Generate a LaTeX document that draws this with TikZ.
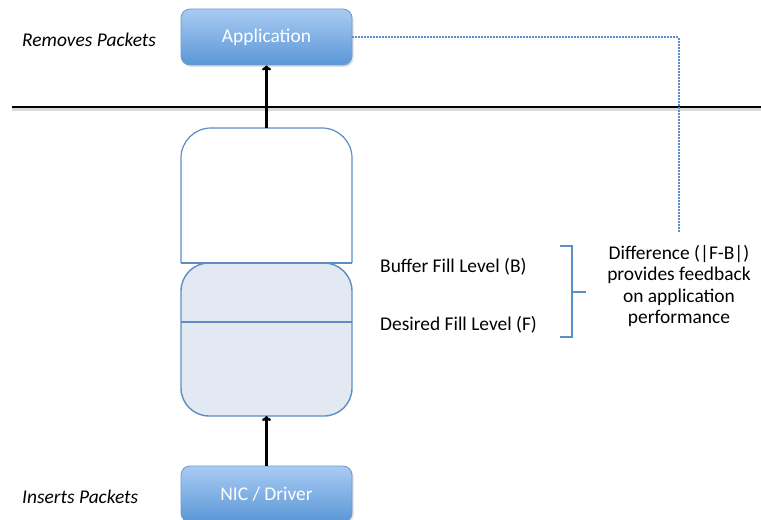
\documentclass[tikz,border=0pt]{standalone}
\usepackage{fontspec}
\setmainfont{Carlito}
\usetikzlibrary{arrows.meta,shadows}
\definecolor{boxtop}{HTML}{A9CBF3}
\definecolor{boxbot}{HTML}{5A97D6}
\definecolor{boxedge}{HTML}{6C9BD2}
\definecolor{bufedge}{HTML}{5E8DC4}
\definecolor{buffill}{HTML}{E2E9F3}
\definecolor{fbline}{HTML}{5B8FCB}
\tikzset{
  appbox/.style={rounded corners=9bp, draw=boxedge, line width=0.8bp,
    top color=boxtop, bottom color=boxbot, text=white,
    drop shadow={shadow xshift=1.5bp, shadow yshift=-2bp, opacity=0.25},
    minimum width=171bp, minimum height=56bp, inner sep=0pt, font=\fontsize{19.5}{22}\selectfont},
  flow/.style={line width=2.4bp, -{To[length=5bp,width=9bp]}},
  lbl/.style={font=\fontsize{19.5}{22}\selectfont, inner sep=0pt},
  side/.style={font=\fontsize{19.5}{22}\selectfont\itshape, inner sep=0pt},
  bufline/.style={draw=bufedge, line width=1.6bp},
}
\begin{document}
\begin{tikzpicture}[x=1bp,y=-1bp]
\useasboundingbox (0,0) rectangle (761,520);

% boundary between kernel and user space
\draw[line width=4bp, black!15] (12,109) -- (761,109);
\draw[line width=2.4bp] (12,107) -- (761,107);

% application and driver
\node[appbox] (app) at (266.5,37) {Application};
\node[appbox] (nic) at (266.5,494) {NIC / Driver};

% packet buffer: empty upper part and filled lower part
\coordinate (buftop) at (266.5,128);
\coordinate (bufbot) at (266.5,416);
\draw[bufline, fill=white, line width=1.2bp]
  (181,263) [rounded corners=30bp] -- (181,128) -- (352,128) [sharp corners] -- (352,263);
\draw[bufline, fill=buffill, line width=1.4bp, rounded corners=28bp]
  (181,263) rectangle (352,416);
\draw[bufline] (181,263) -- (352,263);
\draw[bufline] (181,322) -- (352,322);

% packet flow
\draw[flow] (nic.north) -- (bufbot);
\draw[flow] (buftop) -- (app.south);

% side labels
\node[side, anchor=west] (rem) at (22,40) {Removes Packets};
\node[side, anchor=west] (ins) at (22,497) {Inserts Packets};

% fill levels
\node[lbl, anchor=west] (fillB) at (380,267) {Buffer Fill Level (B)};
\node[lbl, anchor=west] (fillF) at (380,325) {Desired Fill Level (F)};

% bracket grouping the two levels
\coordinate (brt) at (560,246);
\coordinate (brb) at (560,337);
\coordinate (brm) at (572,292);
\coordinate (brtip) at (586,292);
\draw[fbline, line width=2bp] (brt) -- (572,246) -- (572,337) -- (brb);
\draw[fbline, line width=2bp] (brm) -- (brtip);

\node[lbl, align=center, font=\fontsize{19.5}{21.7}\selectfont] (diff) at (679,286)
  {Difference (|F-B|)\\provides feedback\\on application\\performance};

% feedback path to the application
\coordinate (fbcorner) at (679,37.5);
\draw[fbline, line width=2bp, dash pattern=on 1.6bp off 1.4bp] (app.east |- fbcorner) -- (fbcorner) -- (679,232);
\end{tikzpicture}
\end{document}
